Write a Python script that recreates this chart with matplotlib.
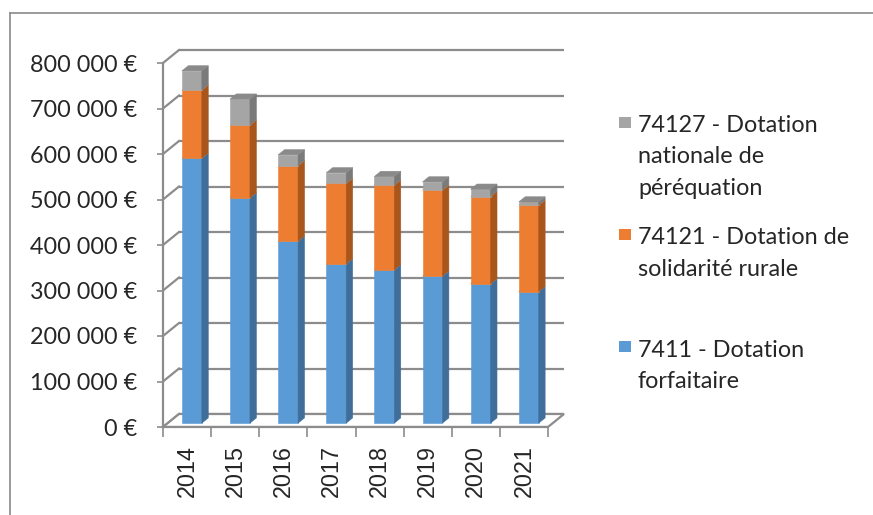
import matplotlib
matplotlib.use('Agg')
import matplotlib.pyplot as plt
from matplotlib.patches import Polygon, Rectangle
from matplotlib.lines import Line2D
import numpy as np

# ---------------- data ----------------
years = ['2014', '2015', '2016', '2017', '2018', '2019', '2020', '2021']
dotation_forfaitaire = [582000, 495000, 400000, 350000, 337000, 323000, 306000, 289000]
dotation_solidarite_rurale = [150000, 160000, 165500, 177000, 186000, 189000, 192000, 190000]
dotation_perequation = [42000, 57000, 24000, 23000, 19000, 18000, 16000, 7000]
series_labels = ["7411 - Dotation\nforfaitaire",
                 "74121 - Dotation de\nsolidarité rurale",
                 "74127 - Dotation\nnationale de\npéréquation"]
y_ticks = [0, 100000, 200000, 300000, 400000, 500000, 600000, 700000, 800000]
y_tick_labels = ["0 €", "100 000 €", "200 000 €", "300 000 €", "400 000 €",
                 "500 000 €", "600 000 €", "700 000 €", "800 000 €"]

# ---------------- style ----------------
front_colors = ['#5B9BD5', '#ED7D31', '#A5A5A5']
side_colors = ['#3F6E9A', '#A9561D', '#7A7A7A']
top_colors = ['#7FB0DE', '#F29A5E', '#8A8A8A']
grid_color = '#8C8C8C'
text_color = '#262626'

W, H = 873, 515
fig = plt.figure(figsize=(W / 100, H / 100), dpi=100)
fig.patch.set_facecolor('white')

PX_CAT = 48.125
PX_100K = 45.5
ax_left_px, ax_right_px = 163, 575
ax_top_px, ax_bot_px = 40, 427
ax = fig.add_axes([ax_left_px / W, (H - ax_bot_px) / H,
                   (ax_right_px - ax_left_px) / W, (ax_bot_px - ax_top_px) / H])
ax.set_xlim(-0.5, -0.5 + (ax_right_px - ax_left_px) / PX_CAT)
ax.set_ylim(0, (ax_bot_px - ax_top_px) / PX_100K * 100000)
ax.patch.set_visible(False)

# depth (oblique projection) offsets in data units
DX = 16 / PX_CAT
DY = 13 / PX_100K * 100000
n = len(years)
x_left, x_right = -0.5, n - 0.5

# back wall gridlines + side wall diagonals
for v in y_ticks:
    ax.plot([x_left + DX, x_right + DX], [v + DY, v + DY], color=grid_color, lw=1.6,
            solid_capstyle='butt', zorder=1)
    ax.plot([x_left, x_left + DX], [v, v + DY], color=grid_color, lw=1.6, zorder=1)

# floor
ax.add_patch(Polygon([(x_left, 0), (x_right, 0), (x_right + DX, DY), (x_left + DX, DY)],
                     closed=True, facecolor='white', edgecolor=grid_color, lw=1.6, zorder=1.5))

# spines (front axes)
for s in ['top', 'right']:
    ax.spines[s].set_visible(False)
ax.spines['left'].set_bounds(0, 800000)
ax.spines['bottom'].set_bounds(x_left, x_right)
for s in ['left', 'bottom']:
    ax.spines[s].set_color(grid_color)
    ax.spines[s].set_linewidth(1.6)
    ax.spines[s].set_zorder(2)

# bars
ZF, ZB = 0.3, 0.7
bw = 0.415
xs = np.arange(n)
series = [dotation_forfaitaire, dotation_solidarite_rurale, dotation_perequation]
bottoms = np.zeros(n)
for k, vals in enumerate(series):
    vals = np.array(vals, dtype=float)
    cx = xs + ZF * DX
    ax.bar(cx, vals, width=bw, bottom=bottoms + ZF * DY, color=front_colors[k],
           edgecolor=front_colors[k], linewidth=0.4, zorder=3 + k * 0.1)
    for i in range(n):
        x0 = cx[i] - bw / 2
        x1 = cx[i] + bw / 2
        b = bottoms[i] + ZF * DY
        t = bottoms[i] + vals[i] + ZF * DY
        d = (ZB - ZF) * DX
        e = (ZB - ZF) * DY
        ax.add_patch(Polygon([(x1, b), (x1 + d, b + e), (x1 + d, t + e), (x1, t)], closed=True,
                             facecolor=side_colors[k], edgecolor=side_colors[k], lw=0.4,
                             zorder=3 + k * 0.1))
        ax.add_patch(Polygon([(x0, t), (x1, t), (x1 + d, t + e), (x0 + d, t + e)], closed=True,
                             facecolor=top_colors[k], edgecolor=top_colors[k], lw=0.4,
                             zorder=3 + k * 0.1))
    bottoms = bottoms + vals

# ticks
ax.set_yticks(y_ticks)
ax.set_yticklabels(y_tick_labels, fontfamily='Lato', fontsize=16.8, color=text_color)
ax.tick_params(axis='y', length=4.3, width=1.2, color=grid_color, pad=14.4)
ax.set_xticks(np.arange(-0.5, n, 1.0))
ax.set_xticklabels([])
ax.set_xticks(xs, minor=True)
ax.set_xticklabels(years, minor=True, rotation=90, fontfamily='Liberation Sans',
                   fontsize=16.8, color=text_color)
ax.tick_params(axis='x', which='major', length=7, width=1.2, color=grid_color)
ax.tick_params(axis='x', which='minor', length=0, pad=13)

# outer frame (cropped chart area border)
fig.add_artist(Line2D([10 / W, 10 / W], [0, 1 - 13 / H], transform=fig.transFigure,
                      color='#8A8A8A', lw=1.2))
fig.add_artist(Line2D([10 / W, 1], [1 - 13 / H, 1 - 13 / H], transform=fig.transFigure,
                      color='#8A8A8A', lw=1.2))

# legend (manual, Excel-like)
legend_order = [2, 1, 0]
first_baselines = [131.7, 244.0, 356.7]
marker_tops = [117, 229, 341]
line_pitch = 31.7
for j, k in enumerate(legend_order):
    fig.add_artist(Rectangle((619 / W, 1 - (marker_tops[j] + 11) / H), 12 / W, 11 / H,
                             transform=fig.transFigure, facecolor=front_colors[k],
                             edgecolor='none'))
    for li, line in enumerate(series_labels[k].split('\n')):
        yb = first_baselines[j] + li * line_pitch
        fig.text(638 / W, 1 - yb / H, line, fontfamily='Lato', fontsize=16.8,
                 color=text_color, ha='left', va='baseline')

fig.savefig('out.png', dpi=100)
